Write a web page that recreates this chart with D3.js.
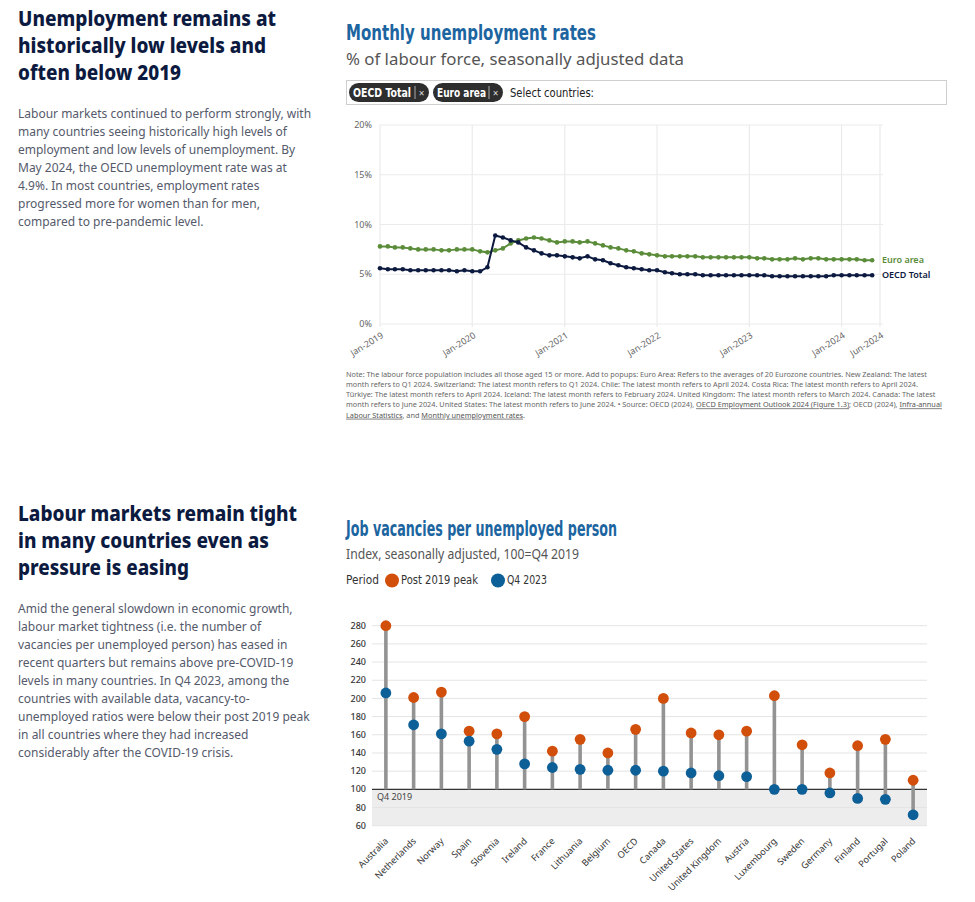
<!DOCTYPE html>
<html><head><meta charset="utf-8">
<script src="https://cdn.jsdelivr.net/npm/d3@7"></script>
<style>
body{margin:0;background:#fff;}
svg text{font-family:"Noto Sans",sans-serif;}
.narrow{font-family:"Liberation Sans Narrow","DejaVu Sans Condensed","Roboto",sans-serif !important;}
</style></head><body>
<svg id="c" width="975" height="902"></svg>
<script>
// ---------- DATA ----------
const startMonth = "2019-01", endMonth = "2024-06";
const oecdTotal = [5.6,5.5,5.5,5.5,5.4,5.4,5.4,5.4,5.4,5.4,5.3,5.4,
 5.3,5.3,5.7,8.9,8.7,8.4,8.2,7.7,7.4,7.1,6.9,6.9,
 6.8,6.7,6.6,6.8,6.5,6.4,6.1,5.9,5.7,5.6,5.5,5.4,
 5.4,5.2,5.1,5.0,5.0,5.0,4.9,4.9,4.9,4.9,4.9,4.9,
 4.9,4.9,4.9,4.8,4.8,4.8,4.8,4.8,4.8,4.8,4.8,4.9,
 4.9,4.9,4.9,4.9,4.9];
const euroArea = [7.8,7.8,7.7,7.7,7.6,7.5,7.5,7.5,7.4,7.4,7.5,7.5,
 7.5,7.3,7.2,7.4,7.6,8.1,8.4,8.6,8.7,8.6,8.4,8.2,
 8.3,8.3,8.2,8.3,8.1,7.9,7.7,7.6,7.4,7.3,7.1,7.0,
 6.9,6.8,6.8,6.8,6.8,6.8,6.7,6.7,6.7,6.7,6.7,6.7,
 6.7,6.6,6.6,6.5,6.5,6.5,6.6,6.5,6.6,6.6,6.5,6.5,
 6.5,6.5,6.5,6.4,6.4];
const pctTicks = [0,5,10,15,20];
const monthTickLabels = ["Jan-2019","Jan-2020","Jan-2021","Jan-2022","Jan-2023","Jan-2024","Jun-2024"];

const countries = ["Australia","Netherlands","Norway","Spain","Slovenia","Ireland","France","Lithuania","Belgium","OECD","Canada","United States","United Kingdom","Austria","Luxembourg","Sweden","Germany","Finland","Portugal","Poland"];
const post2019Peak = [280,201,207,164,161,180,142,155,140,166,200,162,160,164,203,149,118,148,155,110];
const q4_2023 = [206,171,161,153,144,128,124,122,121,121,120,118,115,114,100,100,96,90,89,72];
const indexTicks = [60,80,100,120,140,160,180,200,220,240,260,280];

// ---------- TEXT ----------
const head1 = ["Unemployment remains at","historically low levels and","often below 2019"];
const head1W = [258,248,163];
const body1 = ["Labour markets continued to perform strongly, with","many countries seeing historically high levels of","employment and low levels of unemployment. By","May 2024, the OECD unemployment rate was at","4.9%. In most countries, employment rates","progressed more for women than for men,","compared to pre-pandemic level."];
const head2 = ["Labour markets remain tight","in many countries even as","pressure is easing"];
const head2W = [279,251,171];
const body2 = ["Amid the general slowdown in economic growth,","labour market tightness (i.e. the number of","vacancies per unemployed person) has eased in","recent quarters but remains above pre-COVID-19","levels in many countries. In Q4 2023, among the","countries with available data, vacancy-to-","unemployed ratios were below their post 2019 peak","in all countries where they had increased","considerably after the COVID-19 crisis."];
const noteLines = [
 [["Note: The labour force population includes all those aged 15 or more. Add to popups: Euro Area: Refers to the averages of 20 Eurozone countries. New Zealand: The latest",0]],
 [["month refers to Q1 2024. Switzerland: The latest month refers to Q1 2024. Chile: The latest month refers to April 2024. Costa Rica: The latest month refers to April 2024.",0]],
 [["Türkiye: The latest month refers to April 2024. Iceland: The latest month refers to February 2024. United Kingdom: The latest month refers to March 2024. Canada: The latest",0]],
 [["month refers to June 2024. United States: The latest month refers to June 2024. • Source: OECD (2024), ",0],["OECD Employment Outlook 2024 (Figure 1.3)",1],["; OECD (2024), ",0],["Infra-annual",1]],
 [["Labour Statistics",1],[", and ",0],["Monthly unemployment rates",1],[".",0]]
];

const svg = d3.select("#c");
const navy = "#0c1a3f";

function fitText(sel, w){ sel.attr("textLength", w).attr("lengthAdjust","spacingAndGlyphs"); return sel; }

// Left column
function leftBlock(head, headW, body, hy, by){
  head.forEach((t,i)=>{
    fitText(svg.append("text").attr("x",18).attr("y",hy+i*27).attr("font-size",20.5).attr("font-weight",800)
      .attr("fill",navy).text(t), headW[i]);
  });
  body.forEach((t,i)=>{
    svg.append("text").attr("x",18).attr("y",by+i*18).attr("font-size",12).attr("fill","#555a6b").text(t);
  });
}
leftBlock(head1, head1W, body1, 26, 117.5);
leftBlock(head2, head2W, body2, 521, 612.5);

// ---------- CHART 1 ----------
fitText(svg.append("text").attr("x",346).attr("y",40).attr("class","narrow").attr("font-size",22).attr("font-weight",700).attr("fill","#1c65a0").text("Monthly unemployment rates"),250);
fitText(svg.append("text").attr("x",346).attr("y",65).attr("font-size",16.5).attr("fill","#555").text("% of labour force, seasonally adjusted data"),338);

// selector box
svg.append("rect").attr("x",346.5).attr("y",80.5).attr("width",600).attr("height",24).attr("fill","#fff").attr("stroke","#cfcfcf");
function chip(x, w, label, tw){
  const g = svg.append("g");
  g.append("rect").attr("x",x).attr("y",83).attr("width",w).attr("height",19).attr("rx",9.5).attr("fill","#2e2e2e");
  fitText(g.append("text").attr("class","narrow").attr("x",x+4).attr("y",96.5).attr("font-size",11.5).attr("font-weight",700).attr("fill","#fff").text(label), tw);
  g.append("line").attr("x1",x+w-14).attr("x2",x+w-14).attr("y1",86).attr("y2",99).attr("stroke","#aaa");
  g.append("text").attr("x",x+w-7.5).attr("y",96.5).attr("text-anchor","middle").attr("font-size",10).attr("fill","#ddd").text("×");
}
chip(349,80,"OECD Total",58);
chip(433,70,"Euro area",49);
fitText(svg.append("text").attr("class","narrow").attr("x",510).attr("y",96.5).attr("font-size",11.5).attr("fill","#222").text("Select countries:"),84);

const pm = d3.timeParse("%Y-%m"), pl = d3.timeParse("%b-%Y");
const months = d3.timeMonth.range(pm(startMonth), pm(endMonth));
const x1 = d3.scaleTime().domain([pm(startMonth), pm(endMonth)]).range([380,880]);
const y1 = d3.scaleLinear().domain([0,20]).range([324,125]);

const g1 = svg.append("g");
g1.selectAll(".hg").data(pctTicks).join("line").attr("x1",380).attr("x2",883).attr("y1",d=>y1(d)).attr("y2",d=>y1(d)).attr("stroke","#ebebeb").attr("stroke-width",1.2);
g1.selectAll(".vg").data(monthTickLabels).join("line").attr("x1",d=>x1(pl(d))).attr("x2",d=>x1(pl(d))).attr("y1",y1(20)).attr("y2",y1(0)+3).attr("stroke","#ebebeb").attr("stroke-width",1.2);
g1.selectAll(".yl").data(pctTicks).join("text").attr("x",372).attr("y",d=>y1(d)).attr("dy","0.35em").attr("text-anchor","end").attr("font-size",9).attr("fill","#666").text(d=>d+"%");
g1.selectAll(".xl").data(monthTickLabels).join("text")
  .attr("transform",d=>`translate(${x1(pl(d))+4},${y1(0)+13}) rotate(-32)`)
  .attr("text-anchor","end").attr("font-size",9).attr("fill","#666").text(d=>d);

const series = [{name:"Euro area", vals:euroArea, color:"#5a8c3a"},{name:"OECD Total", vals:oecdTotal, color:navy}];
const line = d3.line().x((d,i)=>x1(months[i])).y(d=>y1(d));
series.forEach(s=>{
  g1.append("path").attr("d",line(s.vals)).attr("fill","none").attr("stroke",s.color).attr("stroke-width",2);
  g1.selectAll(null).data(s.vals).join("circle").attr("cx",(d,i)=>x1(months[i])).attr("cy",d=>y1(d)).attr("r",2.3).attr("fill",s.color);
  const last = s.vals[s.vals.length-1];
  g1.append("text").attr("x",882).attr("y",y1(last)).attr("dy","0.35em").attr("font-size",9).attr("font-weight",600).attr("fill",s.color).text(s.name);
});

// note
noteLines.forEach((parts,i)=>{
  const t = svg.append("text").attr("x",346).attr("y",376.5+i*10.3).attr("font-size",7.3).attr("fill","#666");
  parts.forEach(p=>{
    const ts = t.append("tspan").text(p[0]);
    if(p[1]) ts.attr("text-decoration","underline").attr("fill","#555");
  });
});

// ---------- CHART 2 ----------
fitText(svg.append("text").attr("x",346).attr("y",536).attr("class","narrow").attr("font-size",22).attr("font-weight",700).attr("fill","#1c65a0").text("Job vacancies per unemployed person"),271);
fitText(svg.append("text").attr("x",346).attr("y",558.5).attr("font-size",14.5).attr("fill","#555").text("Index, seasonally adjusted, 100=Q4 2019"),233);

const cOrange = "#d24e0b", cBlue = "#0d5f97";
fitText(svg.append("text").attr("class","narrow").attr("x",346).attr("y",584).attr("font-size",11.5).attr("fill","#333").text("Period"),33);
svg.append("circle").attr("cx",392).attr("cy",580.5).attr("r",7).attr("fill",cOrange);
fitText(svg.append("text").attr("class","narrow").attr("x",401).attr("y",584).attr("font-size",11.5).attr("fill","#333").text("Post 2019 peak"),77);
svg.append("circle").attr("cx",498).attr("cy",580.5).attr("r",7).attr("fill",cBlue);
fitText(svg.append("text").attr("class","narrow").attr("x",507).attr("y",584).attr("font-size",11.5).attr("fill","#333").text("Q4 2023"),40);

const x2 = d3.scaleBand().domain(countries).range([372,927]);
const y2 = d3.scaleLinear().domain([60,280]).range([825.7,625.7]);
const g2 = svg.append("g");
g2.append("rect").attr("x",372).attr("y",y2(100)).attr("width",555).attr("height",y2(60)-y2(100)).attr("fill","#ededed");
g2.selectAll(".hg").data(indexTicks).join("line").attr("x1",372).attr("x2",927).attr("y1",d=>y2(d)).attr("y2",d=>y2(d)).attr("stroke",d=>d===100?"#333":"#e4e4e4").attr("stroke-width",d=>d===100?1.2:1);
g2.selectAll(".yl").data(indexTicks).join("text").attr("x",366).attr("y",d=>y2(d)).attr("dy","0.35em").attr("text-anchor","end").attr("font-size",9).attr("font-weight",500).attr("fill","#333").text(d=>d);
g2.append("text").attr("x",377).attr("y",y2(100)+11).attr("font-size",9).attr("fill","#444").text("Q4 2019");

const cx = c => x2(c)+x2.bandwidth()/2;
g2.selectAll(".stem").data(countries).join("line")
  .attr("x1",cx).attr("x2",cx)
  .attr("y1",(c,i)=>y2(Math.max(post2019Peak[i],q4_2023[i])))
  .attr("y2",(c,i)=>y2(Math.min(100,q4_2023[i],post2019Peak[i])))
  .attr("stroke","#939393").attr("stroke-width",3.6);
g2.selectAll(".pk").data(countries).join("circle").attr("cx",cx).attr("cy",(c,i)=>y2(post2019Peak[i])).attr("r",5.4).attr("fill",cOrange);
g2.selectAll(".q4").data(countries).join("circle").attr("cx",cx).attr("cy",(c,i)=>y2(q4_2023[i])).attr("r",5.4).attr("fill",cBlue);
g2.selectAll(".xl").data(countries).join("text")
  .attr("transform",c=>`translate(${cx(c)+3},${y2(60)+16}) rotate(-45)`)
  .attr("text-anchor","end").attr("font-size",9.2).attr("fill","#333").text(c=>c);
</script>
</body></html>
